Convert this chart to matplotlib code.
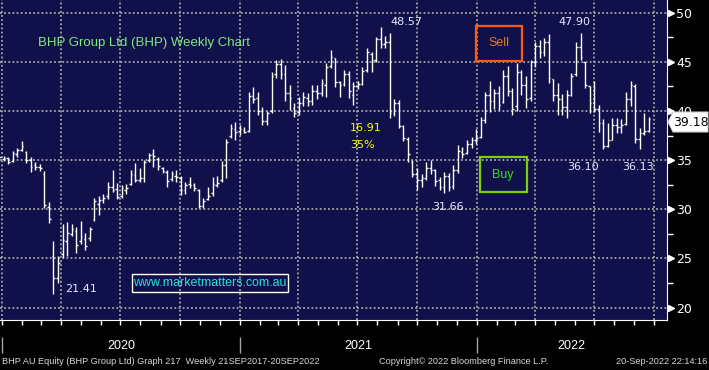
import matplotlib
matplotlib.use("Agg")
import matplotlib.pyplot as plt
import matplotlib.dates as mdates
from matplotlib.patches import Rectangle, Polygon
from matplotlib.ticker import MultipleLocator
import pandas as pd

# weekly OHLC bars (week ending Friday)
weeks = pd.date_range("2019-12-27", periods=144, freq="W-FRI")

highs = [35.5, 35.4, 35.3, 35.9, 36.2, 36.9, 35.9, 35.3, 34.8, 34.6,
         33.9, 30.7, 26.8, 25.3, 28.5, 28.7, 28.5, 28.2, 28.8, 27.6,
         28.2, 31.2, 31.4, 31.6, 32.8, 34.0, 32.7, 32.5, 32.6, 34.0,
         34.7, 34.2, 35.0, 35.7, 36.1, 35.3, 34.3, 34.0, 33.9, 34.0,
         33.4, 32.8, 33.3, 32.7, 32.1, 31.1, 32.3, 33.3, 33.4, 34.9,
         37.2, 38.7, 38.9, 38.6, 38.4, 41.9, 42.4, 41.9, 40.4, 40.0,
         44.0, 45.2, 45.3, 44.7, 42.6, 40.8, 41.4, 41.9, 41.8, 42.6,
         42.6, 43.3, 44.9, 46.2, 45.4, 43.1, 44.2, 44.1, 42.9, 43.0,
         44.5, 46.4, 46.0, 47.5, 48.57, 47.6, 47.9, 41.2, 41.1, 38.6,
         37.4, 35.0, 34.2, 33.6, 34.8, 35.0, 34.1, 33.3, 33.8, 33.7,
         34.5, 36.5, 36.3, 37.1, 37.4, 38.2, 39.4, 41.9, 43.0, 42.2,
         42.5, 44.2, 44.6, 42.3, 44.9, 44.2, 43.6, 45.2, 47.0, 47.2,
         47.4, 47.8, 43.3, 42.8, 41.7, 42.1, 43.9, 47.0, 47.90, 45.0,
         42.5, 43.1, 40.6, 39.2, 38.8, 39.3, 39.3, 39.2, 41.9, 43.0,
         42.7, 38.3, 39.8, 39.4]
lows = [35.0, 34.9, 34.6, 34.8, 35.3, 35.9, 34.7, 33.8, 34.0, 33.9,
        30.1, 28.6, 21.41, 22.5, 25.0, 25.2, 27.3, 25.6, 26.5, 25.9,
        26.8, 28.8, 29.4, 30.6, 31.0, 31.8, 31.0, 31.2, 31.6, 32.5,
        32.8, 32.8, 32.8, 34.8, 34.3, 34.0, 33.7, 32.3, 32.9, 32.8,
        31.5, 31.6, 32.2, 31.9, 30.1, 30.1, 30.9, 31.4, 32.3, 32.8,
        33.2, 37.3, 37.1, 37.6, 37.8, 37.9, 40.8, 39.6, 38.6, 38.6,
        39.8, 43.4, 43.3, 41.0, 40.1, 39.4, 39.6, 40.5, 40.5, 40.6,
        41.2, 41.5, 41.4, 44.4, 42.4, 41.4, 42.5, 41.3, 40.6, 42.2,
        42.6, 44.0, 44.0, 45.0, 46.4, 46.4, 39.3, 39.5, 38.3, 36.9,
        34.8, 33.3, 32.0, 32.3, 33.0, 33.6, 32.4, 32.0, 31.66, 31.9,
        32.1, 33.7, 35.2, 35.6, 36.2, 36.6, 37.3, 38.8, 39.9, 40.2,
        40.1, 40.8, 41.5, 39.6, 40.0, 41.6, 40.3, 41.0, 44.5, 45.4,
        45.6, 42.8, 41.0, 39.6, 39.6, 39.3, 41.5, 43.6, 45.2, 42.3,
        39.8, 39.9, 37.9, 36.10, 36.3, 37.0, 37.8, 37.8, 38.6, 40.5,
        36.7, 36.13, 37.6, 37.9]
opens = [35.2, 35.1, 35.2, 34.9, 35.6, 36.0, 35.8, 35.0, 34.5, 34.3,
         33.6, 30.2, 25.3, 23.0, 25.5, 26.8, 27.5, 27.8, 26.8, 27.0,
         27.1, 29.0, 30.5, 30.9, 31.4, 32.3, 32.1, 31.4, 32.0, 32.6,
         33.5, 33.0, 33.2, 35.0, 35.6, 35.1, 34.2, 33.8, 33.1, 33.4,
         33.2, 32.0, 32.6, 32.5, 32.0, 30.3, 31.0, 31.7, 32.5, 33.0,
         34.5, 37.5, 38.2, 38.0, 38.1, 38.0, 41.5, 41.3, 40.0, 39.0,
         40.0, 43.8, 44.8, 43.8, 41.8, 40.3, 39.9, 40.8, 41.3, 41.0,
         42.0, 41.8, 42.6, 44.6, 45.4, 42.9, 42.7, 43.8, 41.6, 42.5,
         42.7, 44.2, 45.8, 45.2, 47.3, 46.8, 47.0, 39.8, 40.8, 38.5,
         37.2, 34.8, 33.6, 33.0, 33.2, 34.2, 34.0, 33.0, 32.3, 33.4,
         32.4, 34.0, 35.8, 35.7, 36.6, 37.0, 37.4, 39.1, 41.6, 41.0,
         41.8, 40.9, 43.6, 42.0, 40.5, 44.0, 42.6, 41.3, 45.0, 46.6,
         46.0, 47.0, 43.3, 41.6, 41.2, 40.4, 41.6, 43.8, 46.5, 45.0,
         42.5, 40.8, 40.2, 38.8, 36.4, 37.0, 38.6, 38.4, 38.7, 41.2,
         42.5, 37.2, 37.8, 38.0]
closes = [35.3, 35.2, 34.8, 35.7, 36.0, 36.4, 35.0, 34.3, 34.3, 34.2,
          30.4, 29.0, 23.0, 24.5, 26.9, 27.6, 28.0, 26.4, 27.2, 26.3,
          28.0, 30.8, 30.9, 31.2, 32.3, 32.0, 31.3, 32.2, 32.2, 33.6,
          33.0, 33.2, 34.8, 35.5, 35.4, 34.4, 33.9, 32.9, 33.6, 33.3,
          32.0, 32.5, 32.5, 32.2, 30.3, 30.8, 31.4, 32.6, 32.7, 34.5,
          36.8, 38.3, 37.9, 38.2, 37.9, 41.5, 41.2, 40.0, 39.0, 39.8,
          43.6, 44.8, 43.8, 41.8, 41.3, 39.8, 40.8, 41.4, 41.0, 42.0,
          41.8, 42.8, 44.5, 45.5, 42.9, 42.6, 43.8, 42.0, 42.5, 42.7,
          44.1, 46.0, 45.2, 47.3, 46.8, 47.0, 39.8, 40.8, 38.5, 37.3,
          35.6, 33.6, 33.0, 33.2, 34.2, 34.0, 32.9, 32.3, 33.4, 32.3,
          34.0, 35.9, 35.6, 36.6, 37.0, 37.3, 39.1, 41.6, 41.0, 41.8,
          40.6, 43.6, 42.0, 40.2, 44.0, 42.6, 41.2, 45.0, 46.6, 46.0,
          47.0, 43.4, 41.6, 41.2, 40.4, 41.6, 43.6, 46.5, 45.5, 42.6,
          40.8, 40.2, 38.8, 36.4, 37.0, 38.6, 38.4, 38.6, 41.2, 42.6,
          37.2, 37.8, 38.0, 39.18]

y_ticks = [20, 25, 30, 35, 40, 45, 50]
years = [2020, 2021, 2022]

W, H = 709, 370
NAVY = "#10104a"
GRID = "#a6a6a6"
LABEL = "#e4eaff"


def px(x, y):
    # image pixel -> figure fraction
    return x / W, 1 - y / H


fig = plt.figure(figsize=(W / 100, H / 100), dpi=100, facecolor="black")
ax = fig.add_axes([0, 50 / H, 666.7 / W, 320 / H], facecolor=NAVY)

# OHLC bars
x = mdates.date2num(weeks)
half = 2.6
ax.vlines(x, lows, highs, color="white", lw=1.0, zorder=3)
ax.hlines(opens, x - half, x, color="white", lw=1.0, zorder=3)
ax.hlines(closes, x, x + half, color="white", lw=1.0, zorder=3)

x0 = mdates.date2num(pd.Timestamp("2020-01-01"))
ax.set_xlim(x0 - 3.4, x0 + 1023.7)
ax.set_ylim(18.74, 51.29)

# axes
for s in ["top", "left"]:
    ax.spines[s].set_visible(False)
ax.spines["right"].set_color("white")
ax.spines["bottom"].set_color("white")
ax.yaxis.tick_right()
ax.set_yticks(y_ticks)
ax.yaxis.set_minor_locator(MultipleLocator(2.5))
ax.tick_params(axis="y", which="major", length=0, pad=7, labelsize=9,
               labelcolor="white")
ax.tick_params(axis="y", which="minor", length=4, color="white", width=1)
ax.plot([1.0 + 4 / 666.7] * len(y_ticks), y_ticks, ">", color="white",
        ms=4.5, transform=ax.get_yaxis_transform(), clip_on=False)

ax.xaxis.set_major_locator(mdates.MonthLocator(bymonth=[1, 4, 7, 10]))
ax.xaxis.set_minor_locator(mdates.MonthLocator())
ax.tick_params(axis="x", which="both", length=3.5, color="white", width=1,
               labelbottom=False)

ax.grid(True, which="major", color=GRID, lw=1.3, ls=(0, (1, 1.3)), zorder=1)

# year separators and labels
xmin, xmax = ax.get_xlim()
for yr in years:
    start = mdates.date2num(pd.Timestamp(f"{yr}-01-01"))
    end = mdates.date2num(pd.Timestamp(f"{yr + 1}-01-01"))
    ax.vlines(start, -0.053, -0.103, color=GRID, lw=1,
              transform=ax.get_xaxis_transform(), clip_on=False)
    mid = (max(start, xmin) + min(end, xmax)) / 2
    ax.text(mid, -0.082, str(yr), transform=ax.get_xaxis_transform(),
            ha="center", va="center", color="white", fontsize=9,
            family="Liberation Sans")

# title and annotations
fig.text(*px(38, 43), "BHP Group Ltd (BHP) Weekly Chart", color="#82e682",
         fontsize=9.5, family="Liberation Sans", va="center")

hi_lo = [(390, 22, f"{highs[84]:.2f}"), (558, 22, f"{highs[128]:.2f}"),
         (65, 289, f"{lows[12]:.2f}"), (432, 207, f"{lows[98]:.2f}"),
         (567, 167, f"{lows[133]:.2f}"), (622, 167, f"{lows[141]:.2f}")]
for tx, ty, s in hi_lo:
    fig.text(*px(tx, ty), s, color=LABEL, fontsize=8, va="center")

drop = highs[84] - lows[98]
fig.text(*px(350, 128), f"{drop:.2f}", color="#ffff00", fontsize=8, va="center")
fig.text(*px(350, 145), f"{drop / highs[84] * 100:.0f}%", color="#ffff00",
         fontsize=8, va="center")

# sell / buy boxes
fig.add_artist(Rectangle(px(476, 61), 46 / W, 35 / H, fill=False,
                         ec="#ff5a10", lw=1.6, transform=fig.transFigure))
fig.text(*px(499, 43), "Sell", color="#e8782a", fontsize=9,
         family="Liberation Sans", ha="center", va="center")
fig.add_artist(Rectangle(px(480, 192), 47 / W, 35 / H, fill=False,
                         ec="#7ed000", lw=1.6, transform=fig.transFigure))
fig.text(*px(503, 175), "Buy", color="#2ee02e", fontsize=9,
         family="Liberation Sans", ha="center", va="center")

# watermark
fig.add_artist(Rectangle(px(132, 292), 156 / W, 18 / H, fill=False,
                         ec="white", lw=1.0, transform=fig.transFigure))
fig.text(*px(210, 283), "www.marketmatters.com.au", color="#2ee0e0",
         fontsize=8.9, family="Liberation Sans", ha="center", va="center")

# last price tag
tag = [px(668, 122), px(673, 112), px(708, 112), px(708, 132), px(673, 132)]
fig.add_artist(Polygon(tag, closed=True, fc="white", ec="#cccccc", lw=0.8,
                       transform=fig.transFigure, zorder=5))
fig.text(*px(690.5, 122), f"{closes[-1]:.2f}", color="black", fontsize=9,
         ha="center", va="center", zorder=6)

# footer
foot = dict(color="#d8d8d8", fontsize=6.6, family="Liberation Sans", va="center")
fig.text(*px(2, 362), "BHP AU Equity (BHP Group Ltd) Graph 217  Weekly 21SEP2017-20SEP2022", **foot)
fig.text(*px(379, 362), "Copyright\u00a9 2022 Bloomberg Finance L.P.", **foot)
fig.text(*px(707, 362), "20-Sep-2022 22:14:16", ha="right",
         **{k: v for k, v in foot.items()})

fig.savefig("out.png", dpi=100, facecolor="black")
